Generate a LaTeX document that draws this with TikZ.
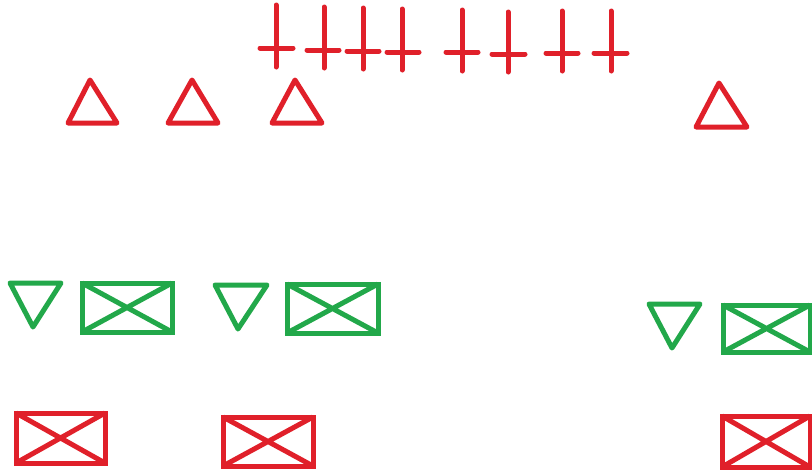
\documentclass[tikz,border=0pt]{standalone}
\definecolor{sred}{HTML}{E0202A}
\definecolor{sgreen}{HTML}{22A84A}
\tikzset{
  redline/.style={draw=sred,line width=5pt,line cap=round,line join=round},
  greenline/.style={draw=sgreen,line width=5pt,line cap=round,line join=round},
  boxline/.style={line cap=butt,line join=miter}
}
\begin{document}
\begin{tikzpicture}[x=1pt,y=-1pt]
\useasboundingbox (0,0) rectangle (812,469);
% crosses
\foreach \vx/\vt/\vb/\hy/\hl/\hr in {276/5/67/48/260/293, 324/7/68/50/307/339, 363/8/69/51/347/379, 402/9/70/52/387/419, 462/10/71/52/446/478, 508/12/72/54/492/525, 562/11/71/53/546/578, 611/11/71/53/594/627}{
  \draw[redline] (\vx,\vt) -- (\vx,\vb);
  \draw[redline] (\hl,\hy) -- (\hr,\hy);
}
% red triangles
\draw[redline] (90,80) -- (117,123) -- (68,123) -- cycle;
\draw[redline] (192,80) -- (218,123) -- (168,123) -- cycle;
\draw[redline] (295,80) -- (322,123) -- (272,123) -- cycle;
\draw[redline] (719,83) -- (747,127) -- (696,127) -- cycle;
% green inverted triangles
\draw[greenline] (10,283) -- (61,283) -- (33,327) -- cycle;
\draw[greenline] (215,285) -- (267,285) -- (238,329) -- cycle;
\draw[greenline] (649,304) -- (700,304) -- (672,348) -- cycle;
% green boxes
\foreach \xa/\ya/\xb/\yb in {82/283/172/332, 287/284/378/333, 723/305/810/352}{
  \draw[greenline,boxline] (\xa,\ya) rectangle (\xb,\yb);
  \draw[greenline,boxline] (\xa,\ya) -- (\xb,\yb) (\xa,\yb) -- (\xb,\ya);
}
% red boxes
\foreach \xa/\ya/\xb/\yb in {16/413/105/463, 223/417/313/466, 722/416/810/467}{
  \draw[redline,boxline] (\xa,\ya) rectangle (\xb,\yb);
  \draw[redline,boxline] (\xa,\ya) -- (\xb,\yb) (\xa,\yb) -- (\xb,\ya);
}
\end{tikzpicture}
\end{document}
